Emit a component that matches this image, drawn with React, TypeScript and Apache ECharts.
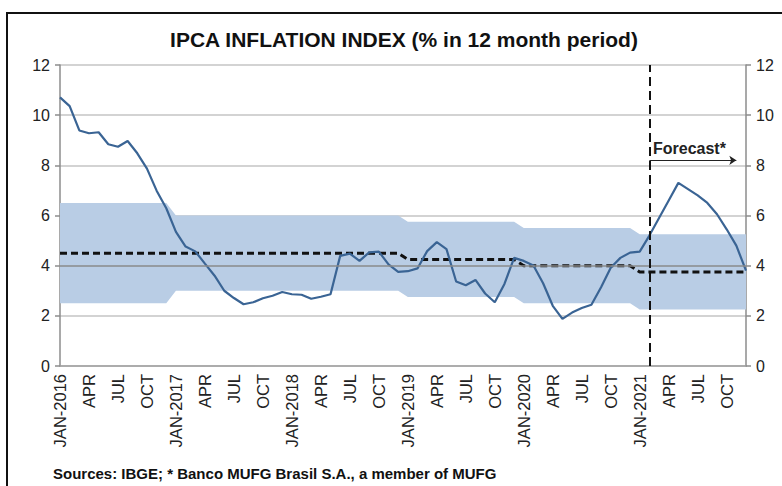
import React, { useEffect, useRef } from "react";
import * as echarts from "echarts";

const FONT = "'Liberation Sans', Arial, sans-serif";

const MONTHS = ["JAN", "FEB", "MAR", "APR", "MAY", "JUN", "JUL", "AUG", "SEP", "OCT", "NOV", "DEC"];
const YEARS = [2016, 2017, 2018, 2019, 2020, 2021];
const categories = YEARS.flatMap((y) => MONTHS.map((m) => `${m}-${y}`));

// IPCA, % in 12 months (2021 from FEB on is the forecast)
const ipca = [
  10.71, 10.36, 9.39, 9.28, 9.32, 8.84, 8.74, 8.97, 8.48, 7.87, 6.99, 6.29,
  5.35, 4.76, 4.57, 4.08, 3.6, 3.0, 2.71, 2.46, 2.54, 2.7, 2.8, 2.95,
  2.86, 2.84, 2.68, 2.76, 2.86, 4.39, 4.48, 4.19, 4.53, 4.56, 4.05, 3.75,
  3.78, 3.89, 4.58, 4.94, 4.66, 3.37, 3.22, 3.43, 2.89, 2.54, 3.27, 4.31,
  4.19, 4.01, 3.3, 2.4, 1.88, 2.13, 2.31, 2.44, 3.14, 3.92, 4.31, 4.52,
  4.56, 5.2, 5.9, 6.6, 7.3, 7.05, 6.8, 6.5, 6.05, 5.45, 4.8, 3.8,
];

const target = [
  4.5, 4.5, 4.5, 4.5, 4.5, 4.5, 4.5, 4.5, 4.5, 4.5, 4.5, 4.5,
  4.5, 4.5, 4.5, 4.5, 4.5, 4.5, 4.5, 4.5, 4.5, 4.5, 4.5, 4.5,
  4.5, 4.5, 4.5, 4.5, 4.5, 4.5, 4.5, 4.5, 4.5, 4.5, 4.5, 4.5,
  4.25, 4.25, 4.25, 4.25, 4.25, 4.25, 4.25, 4.25, 4.25, 4.25, 4.25, 4.25,
  4.0, 4.0, 4.0, 4.0, 4.0, 4.0, 4.0, 4.0, 4.0, 4.0, 4.0, 4.0,
  3.75, 3.75, 3.75, 3.75, 3.75, 3.75, 3.75, 3.75, 3.75, 3.75, 3.75, 3.75,
];

const ceiling = [
  6.5, 6.5, 6.5, 6.5, 6.5, 6.5, 6.5, 6.5, 6.5, 6.5, 6.5, 6.5,
  6.0, 6.0, 6.0, 6.0, 6.0, 6.0, 6.0, 6.0, 6.0, 6.0, 6.0, 6.0,
  6.0, 6.0, 6.0, 6.0, 6.0, 6.0, 6.0, 6.0, 6.0, 6.0, 6.0, 6.0,
  5.75, 5.75, 5.75, 5.75, 5.75, 5.75, 5.75, 5.75, 5.75, 5.75, 5.75, 5.75,
  5.5, 5.5, 5.5, 5.5, 5.5, 5.5, 5.5, 5.5, 5.5, 5.5, 5.5, 5.5,
  5.25, 5.25, 5.25, 5.25, 5.25, 5.25, 5.25, 5.25, 5.25, 5.25, 5.25, 5.25,
];

const floor = [
  2.5, 2.5, 2.5, 2.5, 2.5, 2.5, 2.5, 2.5, 2.5, 2.5, 2.5, 2.5,
  3.0, 3.0, 3.0, 3.0, 3.0, 3.0, 3.0, 3.0, 3.0, 3.0, 3.0, 3.0,
  3.0, 3.0, 3.0, 3.0, 3.0, 3.0, 3.0, 3.0, 3.0, 3.0, 3.0, 3.0,
  2.75, 2.75, 2.75, 2.75, 2.75, 2.75, 2.75, 2.75, 2.75, 2.75, 2.75, 2.75,
  2.5, 2.5, 2.5, 2.5, 2.5, 2.5, 2.5, 2.5, 2.5, 2.5, 2.5, 2.5,
  2.25, 2.25, 2.25, 2.25, 2.25, 2.25, 2.25, 2.25, 2.25, 2.25, 2.25, 2.25,
];

const forecastStart = "FEB-2021";
const forecastArrowEnd = "NOV-2021";
const forecastArrowLevel = 8.2;
const referenceLevel = 4;

const Y_MIN = 0;
const Y_MAX = 12;
const Y_STEP = 2;

export default function App() {
  const ref = useRef<HTMLDivElement>(null);

  useEffect(() => {
    const chart = echarts.init(ref.current!, null, { renderer: "svg" });

    const yAxisBase = {
      type: "value",
      min: Y_MIN,
      max: Y_MAX,
      interval: Y_STEP,
      axisLine: { show: true, lineStyle: { color: "#8c8c8c", width: 1.5 } },
      axisTick: { show: true, length: 5, lineStyle: { color: "#8c8c8c", width: 1.5 } },
      axisLabel: { fontSize: 16, color: "#222", fontFamily: FONT, margin: 10 },
    };

    chart.setOption({
      animation: false,
      backgroundColor: "#ffffff",
      grid: { left: 60, right: 36, top: 65, bottom: 120, containLabel: false },
      xAxis: {
        type: "category",
        boundaryGap: false,
        data: categories,
        axisLine: { show: true, lineStyle: { color: "#a0a0a0", width: 1.5 } },
        axisTick: { show: false },
        splitLine: { show: false },
        axisLabel: {
          rotate: 90,
          interval: 2,
          fontSize: 16.5,
          color: "#222",
          fontFamily: FONT,
          margin: 8,
          formatter: (v: string) => (v.startsWith("JAN") ? v : v.slice(0, 3)),
        },
      },
      yAxis: [
        {
          ...yAxisBase,
          position: "left",
          splitLine: { show: true, lineStyle: { color: "#c4c4c4", width: 1.5 } },
        },
        {
          ...yAxisBase,
          position: "right",
          splitLine: { show: false },
        },
      ],
      series: [
        {
          name: "floor",
          type: "line",
          data: floor,
          stack: "band",
          symbol: "none",
          silent: true,
          lineStyle: { opacity: 0 },
          z: 1,
        },
        {
          name: "band",
          type: "line",
          data: ceiling.map((c, i) => c - floor[i]),
          stack: "band",
          symbol: "none",
          silent: true,
          lineStyle: { opacity: 0 },
          areaStyle: { color: "#b9cde5", opacity: 1 },
          z: 1,
        },
        {
          name: "target",
          type: "line",
          data: target,
          symbol: "none",
          silent: true,
          lineStyle: { color: "#111", width: 3, type: [7, 4] },
          z: 3,
          markLine: {
            silent: true,
            symbol: ["none", "none"],
            label: { show: false },
            lineStyle: { color: "#8a8a8a", width: 1.5, type: "solid" },
            data: [{ yAxis: referenceLevel }],
          },
        },
        {
          name: "IPCA",
          type: "line",
          data: ipca,
          symbol: "none",
          silent: true,
          lineStyle: { color: "#3a6494", width: 2.2 },
          z: 4,
          markLine: {
            silent: true,
            symbol: ["none", "none"],
            label: { show: false },
            data: [
              {
                xAxis: forecastStart,
                lineStyle: { color: "#111", width: 2, type: [9, 5] },
              },
              [
                {
                  coord: [forecastStart, forecastArrowLevel],
                  symbol: "none",
                  lineStyle: { color: "#222", width: 1, type: "solid" },
                },
                {
                  coord: [forecastArrowEnd, forecastArrowLevel],
                  symbol: "arrow",
                  symbolSize: 7,
                  lineStyle: { color: "#222", width: 1, type: "solid" },
                },
              ],
            ],
          },
        },
      ],
      graphic: [
        {
          type: "rect",
          shape: { x: 7, y: 13, width: 800, height: 520 },
          style: { fill: "none", stroke: "#111", lineWidth: 2 },
          silent: true,
        },
        {
          type: "text",
          x: 404,
          y: 39,
          style: {
            text: "IPCA INFLATION INDEX (% in 12 month period)",
            fontSize: 21,
            fontWeight: "bold",
            fontFamily: FONT,
            fill: "#111",
            align: "center",
            verticalAlign: "middle",
          },
        },
        {
          type: "text",
          x: 76,
          y: 215,
          style: { text: "CEILING", fontSize: 15, fontWeight: "bold", fontFamily: FONT, fill: "#e3141c", verticalAlign: "middle" },
        },
        {
          type: "text",
          x: 77,
          y: 241,
          style: { text: "TARGET", fontSize: 15, fontWeight: "bold", fontFamily: FONT, fill: "#111", verticalAlign: "middle" },
        },
        {
          type: "text",
          x: 80,
          y: 292,
          style: { text: "FLOOR", fontSize: 15, fontWeight: "bold", fontFamily: FONT, fill: "#e3141c", verticalAlign: "middle" },
        },
        {
          type: "text",
          x: 653,
          y: 148,
          style: { text: "Forecast*", fontSize: 16, fontWeight: "bold", fontFamily: FONT, fill: "#222", verticalAlign: "middle" },
        },
        {
          type: "text",
          x: 53,
          y: 473,
          style: {
            text: "Sources: IBGE; * Banco MUFG Brasil S.A., a member of MUFG",
            fontSize: 15,
            fontWeight: "bold",
            fontFamily: FONT,
            fill: "#111",
            verticalAlign: "middle",
          },
        },
      ],
    });

    return () => chart.dispose();
  }, []);

  return (
    <div
      ref={ref}
      style={{ position: "fixed", left: 0, top: 0, width: 782, height: 486, background: "#fff" }}
    />
  );
}
